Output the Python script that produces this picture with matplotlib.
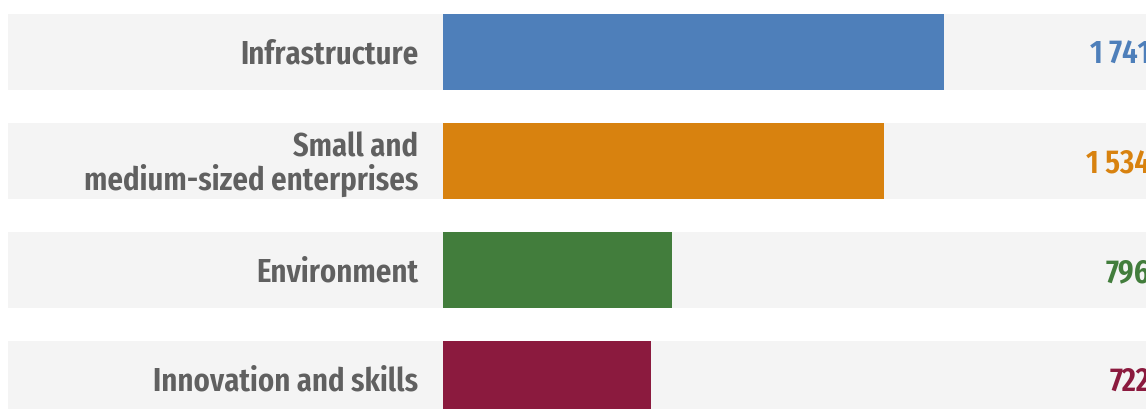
import matplotlib.pyplot as plt

categories = ["Infrastructure", "Small and\nmedium-sized enterprises", "Environment", "Innovation and skills"]
values = [1741, 1534, 796, 722]
value_labels = ["1 741", "1 534", "796", "722"]
colors = ["#4e7fba", "#d8820f", "#427d3c", "#8b1a3e"]

plt.rcParams['font.family'] = ['Fira Sans Extra Condensed', 'Fira Sans Condensed', 'PT Sans Narrow',
                               'Asap Condensed', 'Barlow Semi Condensed', 'DejaVu Sans']

fig = plt.figure(figsize=(11.46, 4.1), dpi=100)
ax = fig.add_axes([0, 0, 1, 1])

px = 0.2878  # pixels per unit
xmin = -443 / px
xmax = (1146 - 443) / px
band_left = (8 - 443) / px

ypos = list(range(len(categories)))
h = 76 / 109

ax.barh(ypos, [xmax * 2 - band_left] * len(ypos), left=band_left, height=h, color="#f4f4f4")
ax.barh(ypos, values, height=h, color=colors)

for y, lab in zip(ypos, categories):
    ax.text((418 - 443) / px, y + 0.02, lab, ha="right", va="center", fontsize=24,
            fontweight="semibold", color="#606060", linespacing=1.0)
for y, lab, c in zip(ypos, value_labels, colors):
    ax.text((1150 - 443) / px, y + 0.02, lab, ha="right", va="center", fontsize=24,
            fontweight="semibold", color=c)

ax.set_xlim(xmin, xmax)
ax.set_ylim((410 - 53) / 109, -53 / 109)
ax.axis("off")

fig.savefig("out.png", dpi=100)
